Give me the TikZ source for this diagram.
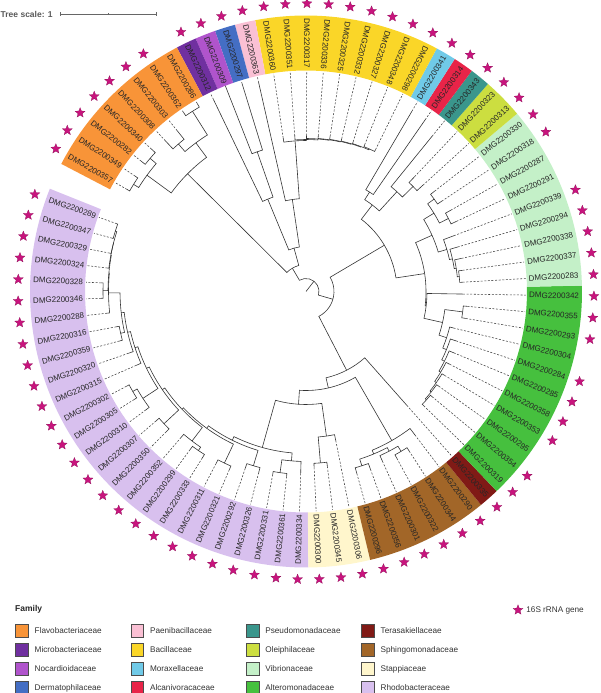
\documentclass[tikz,border=0pt]{standalone}
\usepackage{fontspec}
\setmainfont{Liberation Sans}
\usetikzlibrary{shapes.geometric}

\definecolor{flavo}{RGB}{248,148,56}
\definecolor{microb}{RGB}{112,48,160}
\definecolor{nocard}{RGB}{176,84,204}
\definecolor{dermat}{RGB}{68,110,196}
\definecolor{paenib}{RGB}{250,192,212}
\definecolor{bacill}{RGB}{250,214,40}
\definecolor{moraxe}{RGB}{112,202,232}
\definecolor{alcani}{RGB}{232,36,72}
\definecolor{pseudo}{RGB}{58,150,140}
\definecolor{oleiph}{RGB}{204,222,64}
\definecolor{vibrio}{RGB}{196,240,200}
\definecolor{altero}{RGB}{70,192,62}
\definecolor{terasa}{RGB}{128,26,22}
\definecolor{sphing}{RGB}{162,102,40}
\definecolor{stappi}{RGB}{255,246,204}
\definecolor{rhodob}{RGB}{216,192,238}
\definecolor{starc}{RGB}{200,20,125}

% angle and radius store of tree nodes
\makeatletter
\newcommand\setang[2]{\expandafter\xdef\csname tang@#1\endcsname{#2}}
\newcommand\setrad[2]{\expandafter\xdef\csname trad@#1\endcsname{#2}}
\newcommand\tang[1]{\csname tang@#1\endcsname}
\newcommand\trad[1]{\csname trad@#1\endcsname}
\makeatother
\newcommand\leafang[1]{160.3+4.321*#1}
% internal node: name, radius, first child, last child
\newcommand\inode[4]{%
  \edef\ca{\tang{#3}}\edef\cb{\tang{#4}}%
  \edef\ra{\trad{#3}}\edef\rb{\trad{#4}}%
  \pgfmathsetmacro\cm{(\ca+\cb)/2}%
  \setang{#1}{\cm}\setrad{#1}{#2}%
  \draw[branch] (\ca:\ra) -- (\ca:#2)
    arc[start angle=\ca, end angle=\cb, radius=#2] -- (\cb:\rb);
}

\begin{document}
\begin{tikzpicture}[
  x=1pt, y=1pt,
  branch/.style={draw=black!80, line width=0.6pt},
  leafdash/.style={draw=black!75, line width=0.55pt, dash pattern=on 2pt off 1.6pt},
  lbl/.style={font=\fontsize{8}{8}\selectfont, inner sep=0pt, text=black!85},
  starmark/.style={star, star points=5, star point ratio=2.3, minimum size=10.5pt,
    inner sep=0pt, fill=starc, draw=starc!70!black, line width=0.2pt},
  legbox/.style={minimum size=12.5pt, inner sep=0pt, draw=black!70, line width=0.6pt},
  legtext/.style={font=\fontsize{8.2}{9}\selectfont, anchor=west, inner sep=0pt, text=black!80}
]
\useasboundingbox (-306,-401.5) rectangle (294,291.5);

% family bands
\foreach \c/\p/\q in {rhodob/0/25, stappi/26/28, sphing/29/34, terasa/35/35,
    altero/36/46, vibrio/47/55, oleiph/56/57, pseudo/58/58, alcani/59/59,
    moraxe/60/60, bacill/61/69, paenib/70/70, dermat/71/71, nocard/72/72,
    microb/73/73, flavo/74/81} {
  \pgfmathsetmacro\aa{\leafang{\p}-2.1605}
  \pgfmathsetmacro\bb{\leafang{\q}+2.1605}
  \fill[\c] (\aa:221) arc[start angle=\aa, end angle=\bb, radius=221]
    -- (\bb:276) arc[start angle=\bb, end angle=\aa, radius=276] -- cycle;
}

% leaves: number / tip radius / star
\foreach \n/\r/\s [count=\i from 0] in {
    289/201/1, 347/201/1, 329/200/1, 324/200/1, 328/205/1, 346/205/1, 288/200/1,
    316/193/1, 359/193/1, 320/188/1, 315/185/1, 302/203/1, 305/203/1, 310/199/1,
    307/198/1, 350/198/1, 352/192/1, 299/196/1, 333/196/1, 311/194/1, 321/194/1,
    292/187/1, 326/187/1, 331/186/1, 361/186/1, 334/182/1,
    300/176/1, 345/176/1, 306/152/1,
    296/189/1, 356/189/1, 301/186/1, 322/190/1, 344/190/1, 290/180/1,
    335/152/1,
    319/164/1, 354/164/1, 295/163/0, 353/162/1, 358/161/1, 285/160/1, 284/158/1,
    304/152/0, 293/162/1, 355/162/1, 342/157/1,
    283/157/1, 337/158/1, 338/159/1, 294/158/1, 339/158/1, 291/166/0, 287/166/0,
    318/163/1, 330/163/1,
    313/158/1, 323/158/1, 343/200/1, 314/209/1, 341/209/1,
    298/158/1, 348/158/1, 327/157/1, 332/157/1, 325/157/1, 336/156/1, 317/156/1,
    351/156/1, 360/155/1,
    363/214/1, 297/217/1, 309/221/1, 312/213/1,
    286/217/0, 362/217/1, 303/206/1, 308/206/1, 340/210/1, 282/210/1, 349/206/1,
    357/206/1} {
  \pgfmathsetmacro\a{\leafang{\i}}
  \setang{\n}{\a}\setrad{\n}{\r}
  \ifnum\r<220 \draw[leafdash] (\a:\r) -- (\a:220);\fi
  \ifnum\s=1 \node[starmark] at (\a:288) {};\fi
  \ifnum\i<26
    \node[lbl, rotate=\a+180, anchor=east] at (\a:223) {DMG2200\n};
  \else\ifnum\i>60
    \node[lbl, rotate=\a+180, anchor=east] at (\a:223) {DMG2200\n};
  \else
    \node[lbl, rotate=\a, anchor=west] at (\a:223) {DMG2200\n};
  \fi\fi
}

% Rhodobacteraceae
\inode{ca}{200}{289}{347}
\inode{cb}{198.5}{ca}{329}
\inode{cc}{198.5}{cb}{324}
\inode{cd}{203}{328}{346}
\inode{ce}{198}{cc}{cd}
\inode{cf}{197.5}{ce}{288}
\inode{lg}{190}{316}{359}
\inode{na}{186}{cf}{lg}
\inode{nb}{183}{na}{320}
\inode{nc}{180}{nb}{315}
\inode{ma}{200}{302}{305}
\inode{mb}{195}{ma}{310}
\inode{nd}{177}{nc}{mb}
\inode{mc}{194}{307}{350}
\inode{ne}{174}{nd}{mc}
\inode{mx}{192}{299}{333}
\inode{md}{188}{352}{mx}
\inode{nf}{171}{ne}{md}
\inode{me}{190}{311}{321}
\inode{ng}{169}{nf}{me}
\inode{mf}{182}{292}{326}
\inode{lleft}{166}{ng}{mf}
\inode{mk}{183}{331}{361}
\inode{lright}{170}{mk}{334}
\inode{rho}{162}{lleft}{lright}
% Stappiaceae, Sphingomonadaceae, Terasakiellaceae
\inode{sa}{172}{300}{345}
\inode{sta}{146}{sa}{306}
\inode{cia}{113}{rho}{sta}
\inode{pa}{183}{296}{356}
\inode{pb}{186}{322}{344}
\inode{pc}{180}{301}{pb}
\inode{pd}{176}{pa}{pc}
\inode{sph}{172}{pd}{290}
\inode{ci}{99}{cia}{sph}
\inode{alpha}{88.6}{ci}{335}
% Alteromonadaceae, Vibrionaceae
\inode{ga}{162}{319}{354}
\inode{gb}{160.5}{ga}{295}
\inode{gc}{159}{gb}{353}
\inode{gd}{157}{gc}{358}
\inode{ge}{155}{gd}{285}
\inode{gf}{152}{ge}{284}
\inode{gg}{148}{gf}{304}
\inode{gh}{158}{293}{355}
\inode{gi}{140}{gg}{gh}
\inode{alt}{121}{gi}{342}
\inode{va}{154}{283}{337}
\inode{vb}{152}{va}{338}
\inode{vc}{150}{vb}{294}
\inode{vd}{147}{vc}{339}
\inode{ve}{160}{291}{287}
\inode{vf}{158}{318}{330}
\inode{vg}{150}{ve}{vf}
\inode{vib}{138}{vd}{vg}
\inode{gj}{120}{alt}{vib}
% Oleiphilaceae, Pseudomonadaceae, Alcanivoracaceae, Moraxellaceae
\inode{qa}{150}{313}{323}
\inode{qb}{135}{qa}{343}
\inode{qc}{118}{314}{341}
\inode{qd}{109}{qb}{qc}
\inode{gamma}{91}{gj}{qd}
\inode{prot}{28}{alpha}{gamma}
% Bacillaceae, Paenibacillaceae, Actinobacteria
\inode{ba}{156}{298}{348}
\inode{bb}{155}{ba}{327}
\inode{bc}{154.5}{bb}{332}
\inode{bd}{154}{bc}{325}
\inode{be}{153.5}{bd}{336}
\inode{bf}{153}{be}{317}
\inode{bg}{152}{bf}{351}
\inode{bh}{151}{bg}{360}
\inode{firm}{93}{bh}{363}
\inode{ta}{148}{297}{309}
\inode{act}{100}{ta}{312}
\inode{tg}{45}{firm}{act}
% Flavobacteriaceae
\inode{oa}{213}{286}{362}
\inode{ob}{195}{303}{308}
\inode{ofa}{185}{oa}{ob}
\inode{oc}{205}{340}{282}
\inode{od}{203}{349}{357}
\inode{ofb}{197}{oc}{od}
\inode{org}{167}{ofa}{ofb}
\inode{top}{27}{tg}{org}
\inode{root}{13}{prot}{top}
\draw[branch] (0,0) -- (\tang{root}:\trad{root});

% tree scale
\node[font=\bfseries\fontsize{8.5}{9}\selectfont, text=black!65, anchor=west, inner sep=0pt]
  (scaletxt) at (-305.5,277.5) {Tree scale: 1};
\draw[black!60, line width=0.6pt] (-246,277.5) -- (-150,277.5)
  (-246,275.5) -- (-246,279.5) (-150,275.5) -- (-150,279.5) (-198,276.5) -- (-198,278.5);

% legend
\node[font=\bfseries\fontsize{8.5}{9}\selectfont, anchor=west, inner sep=0pt, text=black!85]
  (famtitle) at (-291,-317.5) {Family};
\foreach \c/\t [count=\k from 0] in {flavo/Flavobacteriaceae, microb/Microbacteriaceae,
    nocard/Nocardioidaceae, dermat/Dermatophilaceae, paenib/Paenibacillaceae,
    bacill/Bacillaceae, moraxe/Moraxellaceae, alcani/Alcanivoracaceae,
    pseudo/Pseudomonadaceae, oleiph/Oleiphilaceae, vibrio/Vibrionaceae,
    altero/Alteromonadaceae, terasa/Terasakiellaceae, sphing/Sphingomonadaceae,
    stappi/Stappiaceae, rhodob/Rhodobacteraceae} {
  \pgfmathtruncatemacro\col{int(\k/4)}
  \pgfmathtruncatemacro\row{mod(\k,4)}
  \pgfmathsetmacro\bx{-284+115.3*\col}
  \pgfmathsetmacro\by{-339.5-19*\row}
  \node[legbox, fill=\c] (box\k) at (\bx,\by) {};
  \node[legtext] at ([xshift=6pt]box\k.east) {\t};
}
\node[starmark] (genestar) at (212,-318.5) {};
\node[legtext] at ([xshift=5pt]genestar.east) {16S rRNA gene};
\end{tikzpicture}
\end{document}
